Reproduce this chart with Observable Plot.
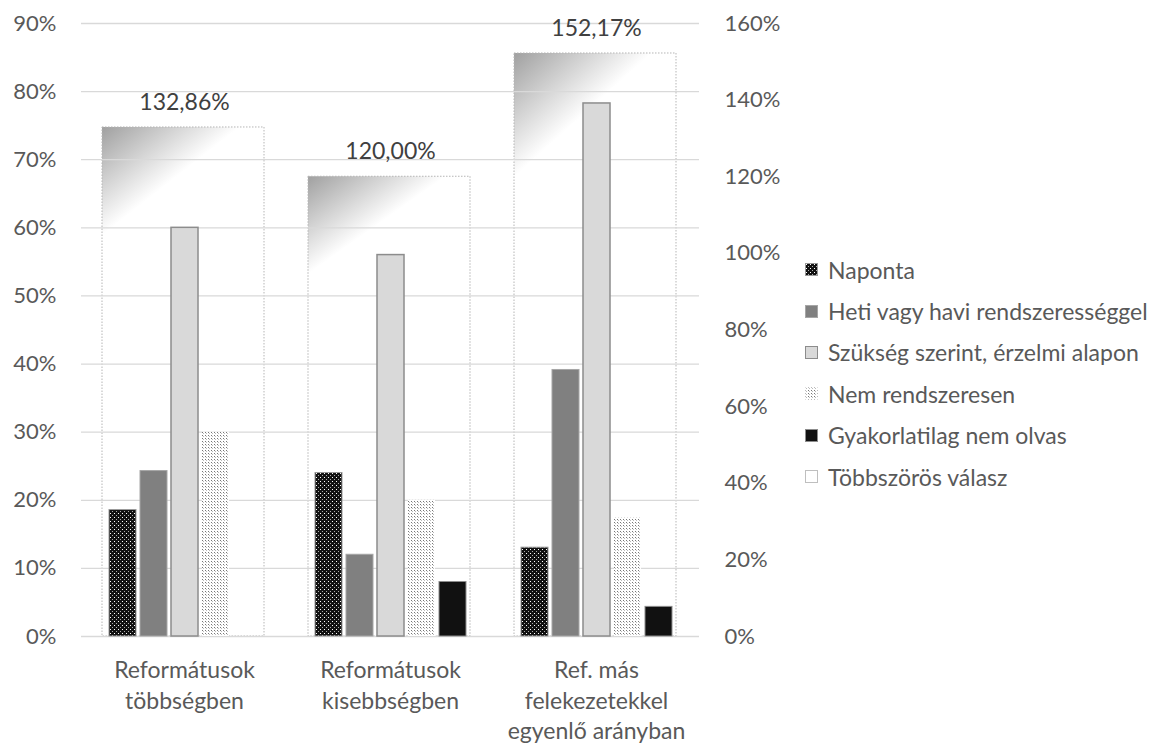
<!DOCTYPE html>
<html><head><meta charset="utf-8">
<script src="https://cdn.jsdelivr.net/npm/d3@7"></script>
<script src="https://cdn.jsdelivr.net/npm/@observablehq/plot@0.6"></script>
<style>
body{margin:0;background:#fff;}
#wrap{position:relative;width:1166px;height:745px;font-family:Lato,sans-serif;color:#595959;background:#fff;}
#wrap > svg{position:absolute;left:0;top:0;}
#legend{position:absolute;left:805px;top:249px;}
.item{display:flex;align-items:center;height:41.4px;font-size:23px;white-space:nowrap;}
.item svg{margin-right:10px;flex:none;}
</style></head>
<body><div id="wrap"><div id="legend"></div></div>
<script>
const groups = ["Reformátusok többségben", "Reformátusok kisebbségben", "Ref. más felekezetekkel egyenlő arányban"];
const groupLabels = ["Reformátusok\ntöbbségben", "Reformátusok\nkisebbségben", "Ref. más\nfelekezetekkel\negyenlő arányban"];
const series = ["Naponta", "Heti vagy havi rendszerességgel", "Szükség szerint, érzelmi alapon", "Nem rendszeresen", "Gyakorlatilag nem olvas"];
const secondaryName = "Többszörös válasz";
// values in percent
const naponta = [18.57, 24.00, 13.04];
const heti = [24.29, 12.00, 39.13];
const szukseg = [60.00, 56.00, 78.26];
const nemRendszeresen = [30.00, 20.00, 17.39];
const gyakorlatilag = [0, 8.00, 4.35];
const tobbszoros = [132.86, 120.00, 152.17];
const leftTicks = [0, 10, 20, 30, 40, 50, 60, 70, 80, 90];
const rightTicks = [0, 20, 40, 60, 80, 100, 120, 140, 160];

const seriesValues = [naponta, heti, szukseg, nemRendszeresen, gyakorlatilag];
const k = 90 / 160; // secondary -> primary axis ratio

const rows = [];
groups.forEach((g, i) => series.forEach((s, j) => rows.push({group: g, series: s, value: seriesValues[j][i]})));
const secRows = groups.map((g, i) => ({group: g, value: tobbszoros[i]}));

const styles = [
  {fill: "url(#pNap)", stroke: "#9a9a9a", strokeWidth: 1},
  {fill: "#808080", stroke: "#a6a6a6", strokeWidth: 1},
  {fill: "#d9d9d9", stroke: "#8c8c8c", strokeWidth: 1.5},
  {fill: "url(#pNem)", stroke: "none"},
  {fill: "#111111", stroke: "#8c8c8c", strokeWidth: 1}
];

const fmt = v => v.toFixed(2).replace(".", ",") + "%";

const chart = Plot.plot({
  width: 1166, height: 745,
  marginLeft: 80, marginRight: 466, marginTop: 23, marginBottom: 109,
  style: {fontFamily: "Lato, sans-serif", fontSize: "22px", color: "#595959", background: "transparent"},
  fx: {domain: groups, padding: 0, label: null},
  x: {domain: series, paddingInner: 0.14, paddingOuter: 0.85, axis: null},
  y: {domain: [0, 90], label: null},
  marks: [
    Plot.barY(secRows, {fx: "group", y: d => d.value * k, fill: "url(#gMulti)", stroke: "#b5b5b5", strokeDasharray: "1.5,1.5", strokeWidth: 1, insetLeft: 21, insetRight: 23}),
    Plot.gridY(leftTicks, {stroke: "#d9d9d9", strokeOpacity: 1, strokeWidth: 1.3}),
    ...series.map((s, j) => Plot.barY(rows.filter(r => r.series === s && r.value > 0), {fx: "group", x: "series", y: "value", ...styles[j]})),
    Plot.text(secRows, {fx: "group", y: d => d.value * k, text: d => fmt(d.value), dy: -25, fill: "#404040", fontSize: 23}),
    Plot.axisY(leftTicks, {anchor: "left", tickSize: 0, tickPadding: 25, label: null, fontSize: 22, tickFormat: d => d + "%"}),
    Plot.axisY(rightTicks.map(v => v * k), {anchor: "right", tickSize: 0, tickPadding: 25, label: null, fontSize: 22, tickFormat: d => Math.round(d / k) + "%"}),
    Plot.axisFx({anchor: "bottom", tickSize: 0, tickPadding: 20, label: null, fontSize: 23, lineHeight: 1.33, tickFormat: g => groupLabels[groups.indexOf(g)]})
  ]
});

const defs = `<defs>
<pattern id="pNap" width="4" height="4" patternUnits="userSpaceOnUse">
  <rect width="4" height="4" fill="#111"/>
  <rect x="1" y="1" width="1" height="1" fill="#fff"/>
  <rect x="3" y="3" width="1" height="1" fill="#aaa"/>
</pattern>
<pattern id="pNem" width="3" height="3" patternUnits="userSpaceOnUse">
  <rect width="3" height="3" fill="#fff"/>
  <rect x="0" y="0" width="1" height="1" fill="#777"/>
  <rect x="1" y="1" width="1" height="1" fill="#bbb"/>
</pattern>
<linearGradient id="gMulti" x1="0" y1="0" x2="0.05" y2="0.2">
  <stop offset="0" stop-color="#a0a0a0"/>
  <stop offset="1" stop-color="#ffffff"/>
</linearGradient>
</defs>`;
chart.insertAdjacentHTML("afterbegin", defs);
document.getElementById("wrap").prepend(chart);

const legendItems = [
  {name: series[0], ...styles[0], stroke: "#9a9a9a"},
  {name: series[1], ...styles[1]},
  {name: series[2], ...styles[2], strokeWidth: 1},
  {name: series[3], ...styles[3]},
  {name: series[4], ...styles[4]},
  {name: secondaryName, fill: "#ffffff", stroke: "#bfbfbf", strokeWidth: 1}
];
const legend = document.getElementById("legend");
legendItems.forEach(it => {
  const div = document.createElement("div");
  div.className = "item";
  div.innerHTML = `<svg width="13" height="13"><rect x="0.5" y="0.5" width="12" height="12" fill="${it.fill}" stroke="${it.stroke}" stroke-width="${it.strokeWidth || 1}"/></svg><span>${it.name}</span>`;
  legend.appendChild(div);
});
</script>
</body></html>
